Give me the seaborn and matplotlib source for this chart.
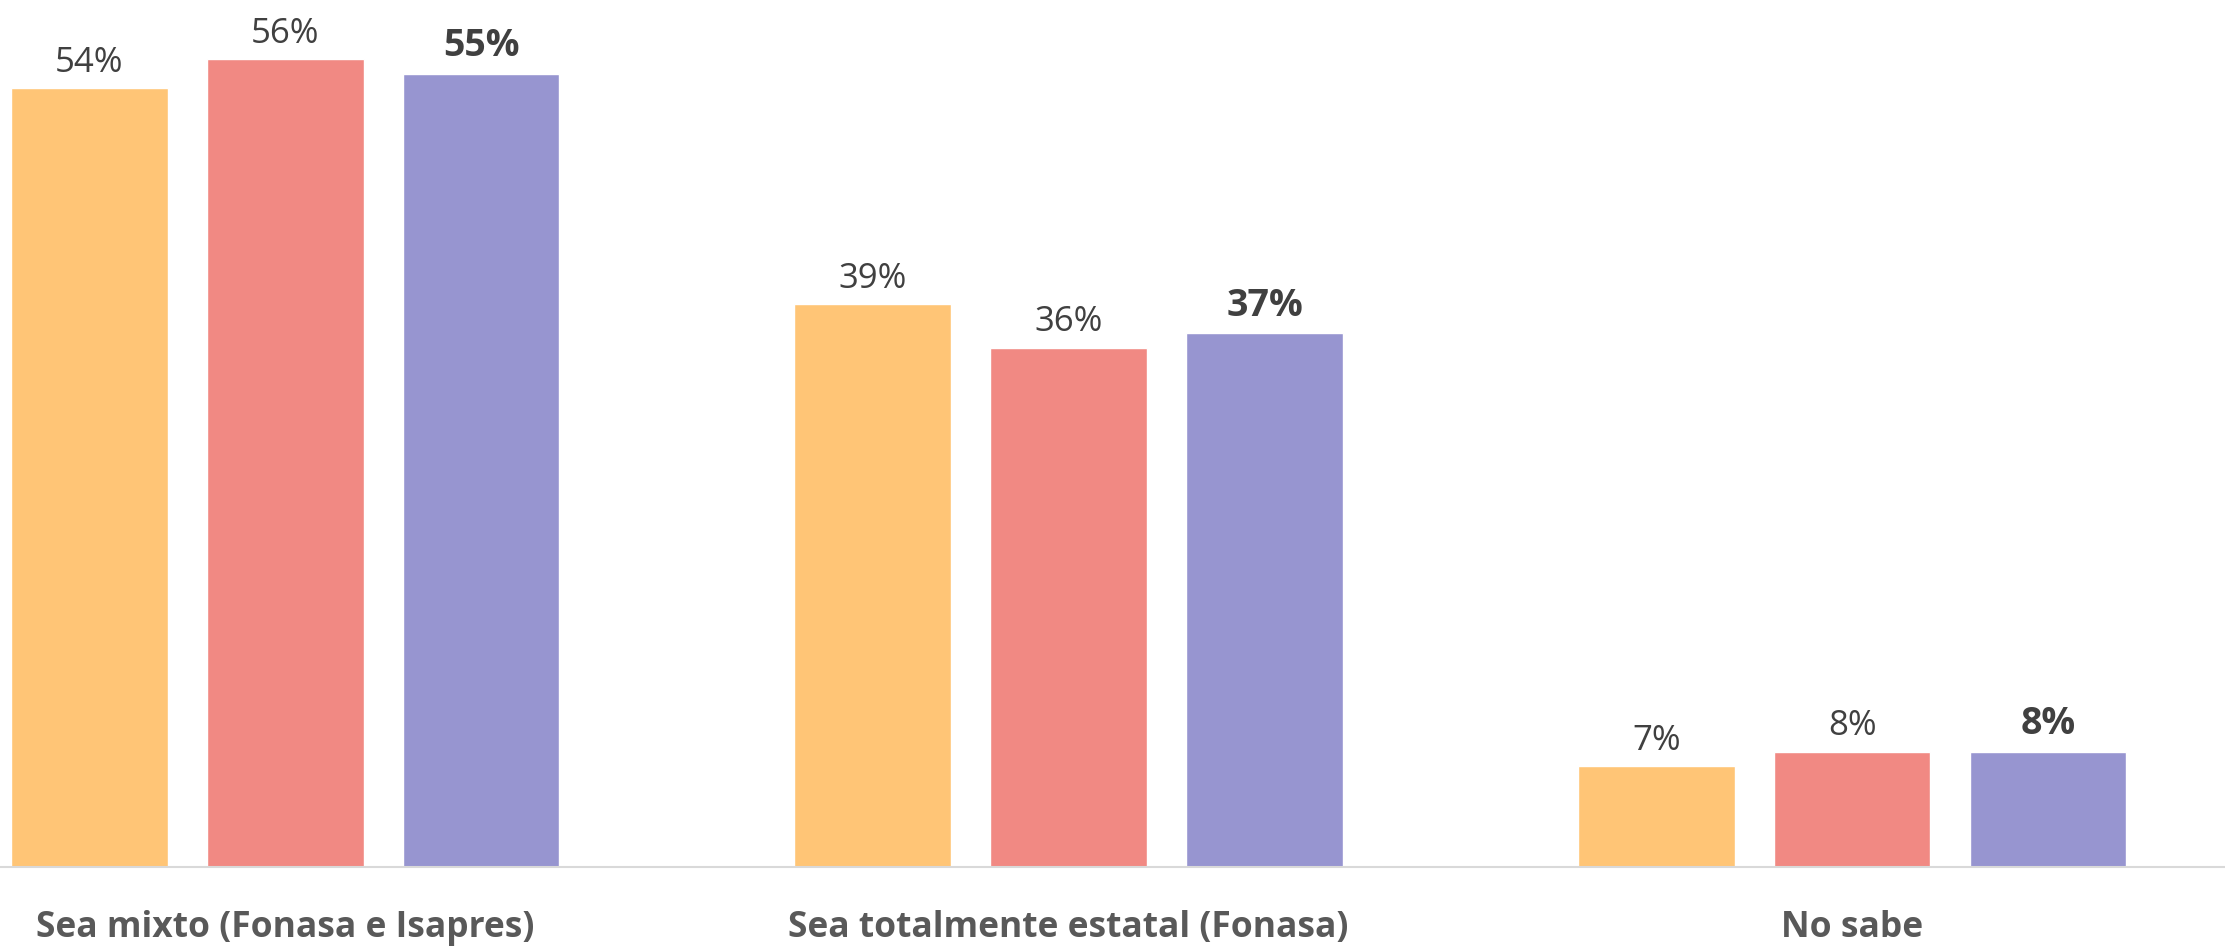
import pandas as pd
import seaborn as sns
import matplotlib.pyplot as plt

##########
## Data ##
##########

categories = ["Sea mixto (Fonasa e Isapres)", "Sea totalmente estatal (Fonasa)", "No sabe"]
series = ["Serie 1", "Serie 2", "Serie 3"]
serie_1 = [54, 39, 7]
serie_2 = [56, 36, 8]
serie_3 = [55, 37, 8]
colors = ["#FFC576", "#F18983", "#9795D0"]

df = pd.DataFrame({
    "categoria": categories * 3,
    "serie": [s for s in series for _ in categories],
    "valor": serie_1 + serie_2 + serie_3,
})

##########
## Plot ##
##########

sns.set_style("white")
plt.rcParams["font.family"] = ["Open Sans", "DejaVu Sans"]

fig = plt.figure(figsize=(22.25, 9.46), dpi=100)
ax = fig.add_axes([0, 0.0835, 1, 0.9165])

sns.barplot(data=df, x="categoria", y="valor", hue="serie", palette=colors,
            saturation=1, width=0.75, gap=0.2, order=categories,
            hue_order=series, legend=False, ax=ax)

for i, cont in enumerate(ax.containers):
    bold = i == len(ax.containers) - 1
    ax.bar_label(cont, fmt="%d%%", padding=6, color="#404040",
                 fontsize=27 if bold else 25,
                 fontweight="bold" if bold else "normal")

ax.set_xlim(-0.364, 2.476)
ax.set_ylim(0, 60.1)
ax.set_xlabel("")
ax.set_ylabel("")
ax.set_yticks([])
ax.tick_params(axis="x", length=0, pad=31)
for lab in ax.get_xticklabels():
    lab.set_fontweight("bold")
    lab.set_fontsize(25.5)
    lab.set_color("#595959")

for side in ["top", "left", "right"]:
    ax.spines[side].set_visible(False)
ax.spines["bottom"].set_color("#D9D9D9")
ax.spines["bottom"].set_linewidth(1.5)

plt.savefig("out.png", dpi=100)
